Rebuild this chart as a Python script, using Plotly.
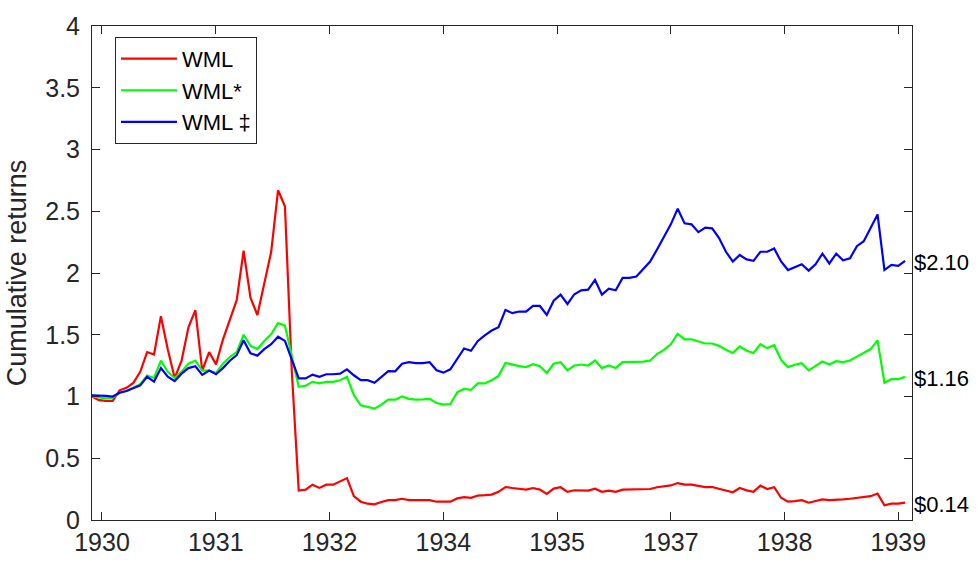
import plotly.graph_objects as go

wml = [1.00, 0.97, 0.965, 0.965, 1.05, 1.07, 1.11, 1.20, 1.36, 1.34,
       1.65, 1.38, 1.15, 1.29, 1.56, 1.70, 1.21, 1.36, 1.26, 1.46,
       1.62, 1.78, 2.18, 1.80, 1.66, 1.93, 2.17, 2.67, 2.54, 1.20,
       0.238, 0.246, 0.286, 0.26, 0.286, 0.286, 0.312, 0.339, 0.193, 0.148,
       0.132, 0.127, 0.146, 0.161, 0.161, 0.172, 0.161, 0.161, 0.161, 0.161,
       0.148, 0.146, 0.148, 0.175, 0.185, 0.18, 0.198, 0.201, 0.206, 0.228,
       0.267, 0.259, 0.251, 0.246, 0.259, 0.246, 0.212, 0.254, 0.265, 0.228,
       0.241, 0.24, 0.238, 0.254, 0.228, 0.238, 0.228, 0.246, 0.246, 0.246,
       0.246, 0.251, 0.265, 0.272, 0.28, 0.299, 0.286, 0.286, 0.278, 0.267,
       0.267, 0.254, 0.241, 0.225, 0.259, 0.24, 0.228, 0.278, 0.251, 0.265,
       0.18, 0.148, 0.153, 0.161, 0.14, 0.153, 0.167, 0.161, 0.167, 0.167,
       0.172, 0.18, 0.188, 0.193, 0.214, 0.119, 0.132, 0.132, 0.14]

wml_star = [1.00, 0.99, 0.985, 0.99, 1.03, 1.045, 1.07, 1.10, 1.17, 1.15,
            1.29, 1.20, 1.15, 1.20, 1.265, 1.29, 1.21, 1.21, 1.19, 1.265,
            1.32, 1.36, 1.50, 1.41, 1.384, 1.45, 1.503, 1.595, 1.574, 1.331,
            1.079, 1.087, 1.119, 1.106, 1.119, 1.119, 1.132, 1.159, 1.013, 0.929,
            0.913, 0.902, 0.934, 0.974, 0.974, 1.0, 0.981, 0.974, 0.976, 0.981,
            0.947, 0.934, 0.939, 1.034, 1.061, 1.053, 1.106, 1.106, 1.132, 1.167,
            1.272, 1.257, 1.246, 1.238, 1.262, 1.246, 1.19, 1.265, 1.278, 1.212,
            1.251, 1.259, 1.251, 1.291, 1.23, 1.251, 1.23, 1.278, 1.278, 1.278,
            1.283, 1.291, 1.344, 1.378, 1.423, 1.508, 1.463, 1.463, 1.444, 1.429,
            1.429, 1.41, 1.378, 1.352, 1.405, 1.37, 1.352, 1.423, 1.392, 1.415,
            1.296, 1.238, 1.257, 1.27, 1.212, 1.246, 1.283, 1.259, 1.286, 1.278,
            1.291, 1.323, 1.357, 1.384, 1.455, 1.111, 1.14, 1.14, 1.159]

wml_dd = [1.01, 1.01, 1.005, 1.00, 1.03, 1.045, 1.065, 1.09, 1.16, 1.12,
          1.23, 1.16, 1.125, 1.185, 1.23, 1.245, 1.175, 1.21, 1.18, 1.23,
          1.29, 1.335, 1.455, 1.35, 1.331, 1.384, 1.423, 1.484, 1.45, 1.304,
          1.146, 1.146, 1.177, 1.159, 1.18, 1.18, 1.185, 1.22, 1.172, 1.132,
          1.132, 1.111, 1.159, 1.206, 1.204, 1.265, 1.278, 1.27, 1.27, 1.278,
          1.212, 1.193, 1.22, 1.31, 1.389, 1.37, 1.45, 1.495, 1.534, 1.561,
          1.701, 1.675, 1.688, 1.688, 1.733, 1.733, 1.661, 1.775, 1.825, 1.749,
          1.828, 1.86, 1.865, 1.944, 1.825, 1.873, 1.86, 1.96, 1.96, 1.971,
          2.032, 2.093, 2.19, 2.296, 2.394, 2.521, 2.402, 2.394, 2.331, 2.368,
          2.362, 2.283, 2.172, 2.093, 2.146, 2.11, 2.098, 2.172, 2.172, 2.198,
          2.093, 2.024, 2.05, 2.071, 2.019, 2.071, 2.156, 2.077, 2.156, 2.103,
          2.119, 2.217, 2.257, 2.362, 2.474, 2.024, 2.066, 2.058, 2.098]

series_names = ["WML", "WML*", "WML \u2021"]
end_labels = ["$0.14", "$1.16", "$2.10"]
tick_years = ["1930", "1931", "1932", "1934", "1935", "1937", "1938", "1939"]

x = list(range(len(wml)))
colors = ["#FF0000", "#00FF00", "#0000FF"]
all_series = [wml, wml_star, wml_dd]

FONT = "Liberation Sans, Arial, sans-serif"
AX = "#262626"

fig = go.Figure()
for name, ys, c in zip(series_names, all_series, colors):
    fig.add_trace(go.Scatter(x=x, y=ys, mode="lines", name=name,
                             line=dict(color=c, width=2.2)))

for ys, lab in zip(all_series, end_labels):
    fig.add_annotation(x=1, xref="paper", y=ys[-1], yref="y", text=lab,
                       showarrow=False, xanchor="left", yanchor="middle",
                       xshift=0, yshift=-2,
                       font=dict(family=FONT, size=22, color="black"))

tick_start, tick_step = 1.45, 16.51
tickvals = [tick_start + tick_step * k for k in range(len(tick_years))]

fig.update_layout(
    width=979, height=568,
    margin=dict(l=92, r=67, t=17, b=47),
    paper_bgcolor="white", plot_bgcolor="white",
    font=dict(family=FONT, size=25, color=AX),
    showlegend=True,
    legend=dict(x=0.028, y=0.978, xanchor="left", yanchor="top",
                bgcolor="white", bordercolor=AX, borderwidth=1,
                font=dict(family=FONT, size=22, color="black"),
                itemwidth=56),
    xaxis=dict(range=[0, 119], tickvals=tickvals, ticktext=tick_years,
               showgrid=False, zeroline=False, showline=True, linecolor=AX,
               linewidth=1, mirror="allticks", ticks="inside", ticklen=8,
               tickcolor=AX, tickfont=dict(family=FONT, size=25, color=AX)),
    yaxis=dict(range=[0, 4], tickvals=[0, 0.5, 1, 1.5, 2, 2.5, 3, 3.5, 4],
               ticktext=["0", "0.5", "1", "1.5", "2", "2.5", "3", "3.5", "4"],
               showgrid=False, zeroline=False, showline=True, linecolor=AX,
               linewidth=1, mirror="allticks", ticks="inside", ticklen=8,
               tickcolor=AX, tickfont=dict(family=FONT, size=25, color=AX),
               ticklabelstandoff=6,
               title=dict(text="Cumulative returns", standoff=10,
                          font=dict(family=FONT, size=27, color=AX))),
)

fig.write_html("out.html")
